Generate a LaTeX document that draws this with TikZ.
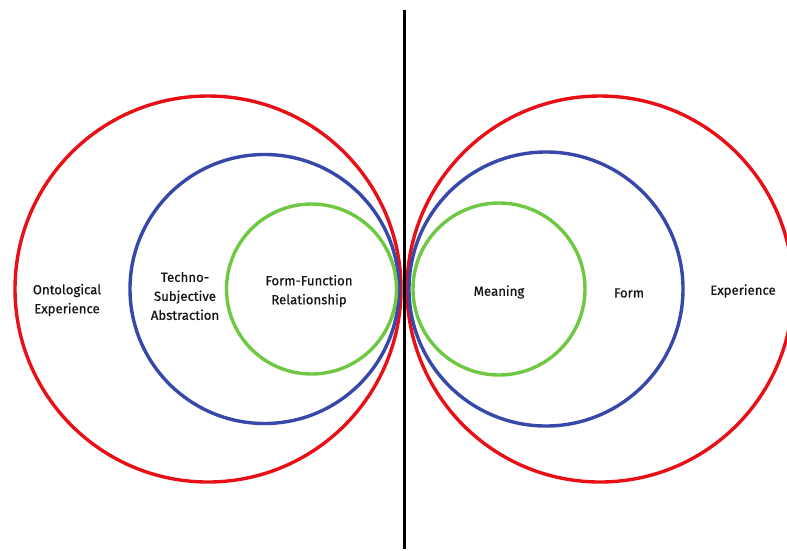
\documentclass[tikz,border=0pt]{standalone}
\usepackage{fontspec}
\setmainfont{Fira Sans}
\newfontfamily\lblfont{Fira Sans}[FakeBold=0.6]
\definecolor{cred}{RGB}{232,16,22}
\definecolor{cblue}{RGB}{55,72,170}
\definecolor{cgreen}{RGB}{110,200,65}
\begin{document}
\begin{tikzpicture}[x=1pt,y=-1pt,
  ring/.style={line width=3.4pt},
  lbl/.style={font=\lblfont\fontsize{13.2}{19}\selectfont, align=center, text=black!92, inner sep=0pt}]
\useasboundingbox (0,0) rectangle (787,550);
\begin{scope}
\clip (0,0) rectangle (787,550);
% left circles
\draw[ring,cred] (208,289) circle (193);
\draw[ring,cblue] (264.5,289) circle (134.5);
\draw[ring,cgreen] (311.5,289) circle (85);
% right circles
\draw[ring,cred] (600,289) circle (193);
\draw[ring,cblue] (546,289) circle (137);
\draw[ring,cgreen] (499,289) circle (86);
\end{scope}
% divider
\coordinate (top) at (404,10);
\coordinate (bot) at (404,549);
\draw[line width=3pt,black] (top) -- (bot);
% labels
\node[lbl] (onto) at (67,300) {Ontological\\Experience};
\node[lbl] (techno) at (185,296) {Techno-\\Subjective\\Abstraction};
\node[lbl] (ff) at (309,291) {Form-Function\\Relationship};
\node[lbl] (mean) at (499,292) {Meaning};
\node[lbl] (form) at (629,293) {Form};
\node[lbl] (exp) at (743,291) {Experience};
\end{tikzpicture}
\end{document}
